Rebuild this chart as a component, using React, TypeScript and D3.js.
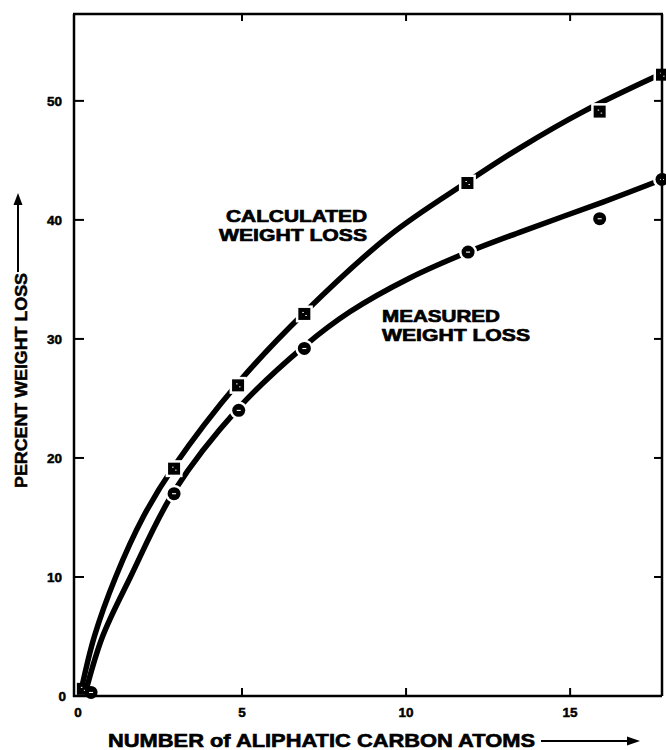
import React from "react";
import * as d3 from "d3";

// Tick values
const xTickValues = [0, 5, 10, 15];
const yTickValues = [0, 10, 20, 30, 40, 50];

// Measured / calculated data points (markers)
const calcPointX = [0.15, 2.93, 4.88, 6.9, 11.87, 15.9, 17.8];
const calcPointY = [0.6, 19.1, 26.1, 32.1, 43.1, 49.1, 52.2];
const measPointX = [0.4, 2.93, 4.9, 6.9, 11.89, 15.9, 17.8];
const measPointY = [0.3, 17.0, 24.0, 29.2, 37.3, 40.1, 43.4];

// Smooth curves as drawn in the figure
const calcCurveX = [0.1, 0.5, 1.15, 2.0, 2.93, 4.88, 6.9, 9.5, 11.87, 13.5, 15.4, 17.8];
const calcCurveY = [0.5, 5.0, 10.0, 15.1, 19.3, 26.3, 32.2, 38.7, 43.2, 46.1, 49.1, 52.3];
const measCurveX = [0.25, 0.75, 1.6, 2.93, 4.9, 6.9, 8.3, 10.1, 11.89, 13.5, 16.0, 17.8];
const measCurveY = [0.5, 5.0, 10.0, 17.2, 24.2, 29.4, 32.3, 35.1, 37.3, 39.0, 41.5, 43.4];

const W = 666;
const H = 750;
const FONT = "'Liberation Sans', Arial, Helvetica, sans-serif";

export default function App() {
  const x = d3.scaleLinear().domain([-0.12, 17.8]).range([74, 662]);
  const y = d3.scaleLinear().domain([0, 57.3]).range([696, 14]);

  const line = d3
    .line<[number, number]>()
    .x((d) => x(d[0]))
    .y((d) => y(d[1]))
    .curve(d3.curveCatmullRom.alpha(0.5));

  const calcCurve = calcCurveX.map((v, i) => [v, calcCurveY[i]] as [number, number]);
  const measCurve = measCurveX.map((v, i) => [v, measCurveY[i]] as [number, number]);
  const calcPts = calcPointX.map((v, i) => [v, calcPointY[i]] as [number, number]);
  const measPts = measPointX.map((v, i) => [v, measPointY[i]] as [number, number]);

  const [x0, x1] = x.range();
  const [yb, yt] = y.range();
  const sq = 12;
  const cr = 6.5;

  return (
    <svg
      width={W}
      height={H}
      style={{ position: "absolute", left: 0, top: 0, background: "#fff" }}
      fontFamily={FONT}
    >
      <rect x={0} y={0} width={W} height={H} fill="#fff" />

      {/* curves */}
      <g fill="none" stroke="#000" strokeWidth={5.5} strokeLinecap="round">
        <path d={line(calcCurve) || ""} />
        <path d={line(measCurve) || ""} />
      </g>

      {/* marker halos (gaps in lines) */}
      <g fill="#fff" stroke="#fff" strokeWidth={5}>
        {calcPts.slice(1).map((p, i) => (
          <rect key={"hs" + i} x={x(p[0]) - sq / 2} y={y(p[1]) - sq / 2} width={sq} height={sq} />
        ))}
        {measPts.slice(1).map((p, i) => (
          <circle key={"hc" + i} cx={x(p[0])} cy={y(p[1])} r={cr} />
        ))}
      </g>

      {/* markers */}
      <g>
        {calcPts.map((p, i) => (
          <g key={"s" + i}>
            <rect x={x(p[0]) - sq / 2} y={y(p[1]) - sq / 2} width={sq} height={sq} fill="#000" />
            <rect x={x(p[0]) - 2} y={y(p[1]) - 2} width={1.5} height={1} fill="#fff" />
            <rect x={x(p[0]) + 1} y={y(p[1]) + 1} width={1.5} height={1} fill="#fff" />
          </g>
        ))}
        {measPts.map((p, i) => (
          <g key={"c" + i}>
            <circle cx={x(p[0])} cy={y(p[1])} r={cr} fill="#000" />
            <rect x={x(p[0]) - 2} y={y(p[1]) - 0.5} width={4} height={1.1} fill="#fff" />
          </g>
        ))}
      </g>

      {/* frame */}
      <g stroke="#000" strokeWidth={2.5} fill="none">
        <line x1={x0} y1={yt} x2={x0} y2={yb + 1} />
        <line x1={x0 - 1} y1={yb} x2={x1} y2={yb} />
        <line x1={x0 - 1} y1={yt} x2={x1 + 1} y2={yt} />
        <line x1={x1} y1={yt} x2={x1} y2={yb} />
      </g>

      {/* ticks */}
      <g stroke="#000" strokeWidth={2}>
        {yTickValues.filter((v) => v > 0).map((v) => (
          <g key={"yt" + v}>
            <line x1={x0} x2={x0 + 10} y1={y(v)} y2={y(v)} />
            <line x1={x1} x2={x1 - 8} y1={y(v)} y2={y(v)} />
          </g>
        ))}
        {xTickValues.filter((v) => v > 0).map((v) => (
          <g key={"xt" + v}>
            <line x1={x(v)} x2={x(v)} y1={yb} y2={yb - 8} />
            <line x1={x(v)} x2={x(v)} y1={yt} y2={yt + 7} />
          </g>
        ))}
      </g>

      {/* tick labels */}
      <g fontSize={13.5} fontWeight="bold" fill="#000" stroke="#000" strokeWidth={0.5}>
        {yTickValues.map((v) => (
          <text key={"yl" + v} x={v === 0 ? 66 : 62} y={y(v) + 5} textAnchor="end">
            {v}
          </text>
        ))}
        {xTickValues.map((v) => (
          <text key={"xl" + v} x={x(v)} y={717} textAnchor="middle">
            {v}
          </text>
        ))}
      </g>

      {/* series labels */}
      <g fontSize={17} fontWeight="bold" fill="#000" stroke="#000" strokeWidth={0.7}>
        <text x={226} y={222} textLength={141} lengthAdjust="spacingAndGlyphs">
          CALCULATED
        </text>
        <text x={219} y={241} textLength={148} lengthAdjust="spacingAndGlyphs">
          WEIGHT LOSS
        </text>
        <text x={382} y={322} textLength={118} lengthAdjust="spacingAndGlyphs">
          MEASURED
        </text>
        <text x={382} y={341} textLength={148} lengthAdjust="spacingAndGlyphs">
          WEIGHT LOSS
        </text>
      </g>

      {/* y axis title with arrow */}
      <g>
        <text
          transform="translate(27,488) rotate(-90)"
          fontSize={16}
          fontWeight="bold"
          fill="#000"
          stroke="#000"
          strokeWidth={0.5}
          textLength={215}
          lengthAdjust="spacingAndGlyphs"
        >
          PERCENT WEIGHT LOSS
        </text>
        <line x1={18} x2={18} y1={272} y2={203} stroke="#000" strokeWidth={2} />
        <path d="M18,193 L13.5,205 L22.5,205 Z" fill="#000" />
      </g>

      {/* x axis title with arrow */}
      <g>
        <text
          x={108}
          y={747}
          fontSize={18}
          fontWeight="bold"
          fill="#000"
          stroke="#000"
          strokeWidth={0.6}
          textLength={427}
          lengthAdjust="spacingAndGlyphs"
        >
          NUMBER of ALIPHATIC CARBON ATOMS
        </text>
        <line x1={541} x2={630} y1={741} y2={741} stroke="#000" strokeWidth={2} />
        <path d="M640,741 L627,736.5 L627,745.5 Z" fill="#000" />
      </g>
    </svg>
  );
}
